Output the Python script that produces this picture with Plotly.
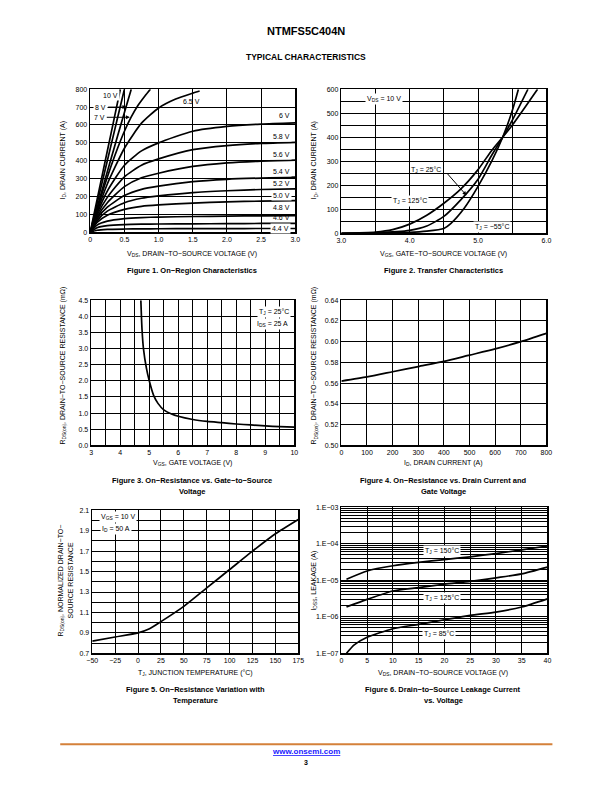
import math
import plotly.graph_objects as go

W, H = 612, 792
FONT = "Liberation Sans, Arial, sans-serif"

# ---------------- Figure 1 data: On-region characteristics ----------------
f1_10v_x = [0, 0.1, 0.2, 0.3, 0.44]
f1_10v_y = [0, 182, 364, 545, 800]
f1_9v_x = [0, 0.1, 0.2, 0.3, 0.4, 0.5]
f1_9v_y = [0, 160, 320, 480, 640, 800]
f1_8v_x = [0, 0.1, 0.2, 0.3, 0.4, 0.5, 0.6]
f1_8v_y = [0, 136, 272, 405, 538, 670, 800]
f1_7v_x = [0, 0.1, 0.2, 0.3, 0.4, 0.5, 0.6, 0.7, 0.8, 0.88]
f1_7v_y = [0, 128, 250, 365, 470, 565, 645, 710, 762, 800]
f1_65v_x = [0, 0.1, 0.25, 0.5, 0.75, 1.0, 1.25, 1.5, 1.6]
f1_65v_y = [0, 115, 270, 470, 610, 695, 745, 778, 790]
f1_vds = [0, 0.1, 0.25, 0.5, 0.75, 1.0, 1.5, 2.0, 2.5, 3.0]
f1_6v = [0, 105, 230, 375, 455, 500, 565, 592, 605, 612]
f1_58v = [0, 95, 195, 310, 375, 410, 462, 485, 497, 503]
f1_56v = [0, 85, 165, 255, 305, 330, 368, 388, 398, 403]
f1_54v = [0, 75, 140, 205, 240, 258, 283, 296, 303, 308]
f1_52v = [0, 65, 118, 165, 190, 203, 222, 232, 239, 242]
f1_50v = [0, 55, 95, 128, 145, 153, 163, 170, 174, 177]
f1_48v = [0, 40, 62, 76, 82, 85, 88, 90, 92, 93]
f1_46v = [0, 25, 37, 43, 45, 46, 47, 48, 49, 50]
f1_44v = [0, 11, 16, 18, 19, 19.5, 20, 20.5, 21, 21]

# ---------------- Figure 2 data: Transfer characteristics ----------------
f2_m55_x = [3.0, 3.5, 4.0, 4.25, 4.5, 4.6, 4.8, 5.0, 5.2, 5.36, 5.5, 5.59]
f2_m55_y = [0, 1, 4, 9, 20, 40, 105, 195, 300, 400, 510, 600]
f2_25_x = [3.0, 3.5, 4.0, 4.25, 4.5, 4.75, 5.0, 5.2, 5.36, 5.5, 5.73]
f2_25_y = [0, 2, 12, 30, 70, 140, 225, 325, 400, 470, 600]
f2_125_x = [3.0, 3.5, 3.75, 4.0, 4.25, 4.5, 4.75, 5.0, 5.2, 5.36, 5.5, 5.7, 5.87]
f2_125_y = [0, 5, 15, 38, 75, 125, 185, 265, 345, 400, 450, 530, 600]

# ---------------- Figure 3 data: RDS(on) vs VGS ----------------
f3_vgs = [4.71, 4.75, 4.8, 4.9, 5.0, 5.15, 5.3, 5.5, 5.75, 6.0, 6.5, 7.0, 7.5, 8.0, 8.5, 9.0, 9.5, 10.0]
f3_rds = [4.5, 3.6, 3.0, 2.4, 2.0, 1.55, 1.3, 1.1, 0.98, 0.9, 0.8, 0.74, 0.7, 0.66, 0.63, 0.6, 0.58, 0.565]

# ---------------- Figure 4 data: RDS(on) vs ID ----------------
f4_id = [0, 100, 200, 300, 400, 500, 600, 700, 800]
f4_rds = [0.562, 0.566, 0.571, 0.576, 0.581, 0.587, 0.593, 0.600, 0.608]

# ---------------- Figure 5 data: normalized RDS(on) vs TJ ----------------
f5_tj = [-50, -25, 0, 12.5, 25, 50, 75, 100, 125, 150, 175]
f5_rn = [0.82, 0.86, 0.90, 0.94, 1.01, 1.16, 1.34, 1.52, 1.70, 1.87, 2.01]

# ---------------- Figure 6 data: IDSS vs VDS ----------------
f6_vds = [1, 5, 10, 15, 20, 25, 30, 35, 40]
f6_150 = [1.07e-5, 1.8e-5, 2.5e-5, 3.1e-5, 3.7e-5, 4.4e-5, 5.4e-5, 6.8e-5, 8.7e-5]
f6_125 = [1.87e-6, 3.0e-6, 5.1e-6, 6.3e-6, 7.8e-6, 9.3e-6, 1.17e-5, 1.5e-5, 2.3e-5]
f6_85_x = [1, 2.5, 5, 10, 15, 20, 25, 30, 35, 40]
f6_85 = [1.0e-7, 1.7e-7, 2.75e-7, 4.7e-7, 6.2e-7, 8.3e-7, 1.1e-6, 1.35e-6, 1.85e-6, 3.1e-6]

# ---------------- tick definitions (labels + extra grid lines) ----------------
f1_xt = [0, 0.5, 1.0, 1.5, 2.0, 2.5, 3.0]
f1_xl = ["0", "0.5", "1.0", "1.5", "2.0", "2.5", "3.0"]
f1_yt = [0, 100, 200, 300, 400, 500, 600, 700, 800]
f2_xt = [3.0, 4.0, 5.0, 6.0]
f2_xl = ["3.0", "4.0", "5.0", "6.0"]
f2_xg = [3.5, 4.5, 5.5]
f2_yt = [0, 100, 200, 300, 400, 500, 600]
f2_yg = [50, 150, 250, 350, 450, 550]
f3_xt = [3, 4, 5, 6, 7, 8, 9, 10]
f3_xg = [3.5, 4.5, 5.5, 6.5, 7.5, 8.5, 9.5]
f3_yt = [0, 0.5, 1.0, 1.5, 2.0, 2.5, 3.0, 3.5, 4.0, 4.5]
f3_yl = ["0.0", "0.5", "1.0", "1.5", "2.0", "2.5", "3.0", "3.5", "4.0", "4.5"]
f4_xt = [0, 100, 200, 300, 400, 500, 600, 700, 800]
f4_yt = [0.50, 0.52, 0.54, 0.56, 0.58, 0.60, 0.62, 0.64]
f4_yl = ["0.50", "0.52", "0.54", "0.56", "0.58", "0.60", "0.62", "0.64"]
f5_xt = [-50, -25, 0, 25, 50, 75, 100, 125, 150, 175]
f5_xl = ["\u221250", "\u221225", "0", "25", "50", "75", "100", "125", "150", "175"]
f5_yt = [0.7, 0.9, 1.1, 1.3, 1.5, 1.7, 1.9, 2.1]
f5_yl = ["0.7", "0.9", "1.1", "1.3", "1.5", "1.7", "1.9", "2.1"]
f5_yg = [0.8, 1.0, 1.2, 1.4, 1.6, 1.8, 2.0]
f6_xt = [0, 5, 10, 15, 20, 25, 30, 35, 40]
f6_decades = [1e-7, 1e-6, 1e-5, 1e-4, 1e-3]
f6_declabels = ["1.E\u221207", "1.E\u221206", "1.E\u221205", "1.E\u221204", "1.E\u221203"]
f6_minor = [d * m for d in f6_decades[:-1] for m in range(2, 10)]

# ---------------- layout helpers (reference page pixels -> paper) ----------------
# small calibration so the photographed page lines up with the reference
SX, BX = 0.980, 5.8
SY, BY = 0.991, 3.8

def fx(x):
    return ((x - BX) / SX) / W

def fy(y):
    return 1 - ((y - BY) / SY) / H

def dom_x(a, b):
    return [fx(a), fx(b)]

def dom_y(top, bottom):
    return [fy(bottom), fy(top)]

def axis(domain, rng, tv, tt, anchor, grid=None, log=False):
    d = dict(domain=domain, range=rng, tickvals=tv, ticktext=tt, anchor=anchor,
             showgrid=True, gridcolor="black", gridwidth=1, zeroline=False,
             showline=True, linecolor="black", linewidth=1.6, mirror=True,
             ticks="", tickfont=dict(family=FONT, size=7, color="black"),
             fixedrange=True)
    if grid:
        d["minor"] = dict(tickvals=grid, showgrid=True, gridcolor="black",
                          gridwidth=1, ticks="")
    if log:
        d["type"] = "log"
    return d

fig = go.Figure()
LINE = dict(color="black", width=1.7, shape="spline", smoothing=0.6)

def add(x, y, n, name=""):
    s = "" if n == 1 else str(n)
    fig.add_trace(go.Scatter(x=x, y=y, mode="lines", line=LINE, name=name,
                             xaxis="x" + s, yaxis="y" + s,
                             showlegend=False, hoverinfo="x+y"))

# Figure 1 traces
add(f1_10v_x, f1_10v_y, 1, "10 V")
add(f1_9v_x, f1_9v_y, 1)
add(f1_8v_x, f1_8v_y, 1, "8 V")
add(f1_7v_x, f1_7v_y, 1, "7 V")
add(f1_65v_x, f1_65v_y, 1, "6.5 V")
for vals, nm in [(f1_6v, "6 V"), (f1_58v, "5.8 V"), (f1_56v, "5.6 V"), (f1_54v, "5.4 V"),
                 (f1_52v, "5.2 V"), (f1_50v, "5.0 V"), (f1_48v, "4.8 V"), (f1_46v, "4.6 V"),
                 (f1_44v, "4.4 V")]:
    add(f1_vds, vals, 1, nm)
# Figure 2
add(f2_m55_x, f2_m55_y, 2, "-55")
add(f2_25_x, f2_25_y, 2, "25")
add(f2_125_x, f2_125_y, 2, "125")
# Figure 3
add(f3_vgs, f3_rds, 3)
# Figure 4
add(f4_id, f4_rds, 4)
# Figure 5
add(f5_tj, f5_rn, 5)
# Figure 6
add(f6_vds, f6_150, 6, "150")
add(f6_vds, f6_125, 6, "125")
add(f6_85_x, f6_85, 6, "85")

fig.update_layout(
    width=W, height=H, margin=dict(l=0, r=0, t=0, b=0),
    paper_bgcolor="white", plot_bgcolor="white",
    font=dict(family=FONT, size=7, color="black"),
    xaxis=axis(dom_x(90, 295), [0, 3.0], f1_xt, f1_xl, "y"),
    yaxis=axis(dom_y(89, 232), [0, 800], f1_yt, [str(v) for v in f1_yt], "x"),
    xaxis2=axis(dom_x(341, 546), [3.0, 6.0], f2_xt, f2_xl, "y2", grid=f2_xg),
    yaxis2=axis(dom_y(89, 233), [0, 600], f2_yt, [str(v) for v in f2_yt], "x2", grid=f2_yg),
    xaxis3=axis(dom_x(91, 294), [3, 10], f3_xt, [str(v) for v in f3_xt], "y3", grid=f3_xg),
    yaxis3=axis(dom_y(300, 445), [0, 4.5], f3_yt, f3_yl, "x3"),
    xaxis4=axis(dom_x(341, 546), [0, 800], f4_xt, [str(v) for v in f4_xt], "y4"),
    yaxis4=axis(dom_y(300, 445), [0.50, 0.64], f4_yt, f4_yl, "x4"),
    xaxis5=axis(dom_x(92, 298), [-50, 175], f5_xt, f5_xl, "y5"),
    yaxis5=axis(dom_y(510, 653), [0.7, 2.1], f5_yt, f5_yl, "x5", grid=f5_yg),
    xaxis6=axis(dom_x(341, 547), [0, 40], f6_xt, [str(v) for v in f6_xt], "y6"),
    yaxis6=axis(dom_y(507, 653), [-7, -3], f6_decades, f6_declabels, "x6",
                grid=f6_minor, log=True),
)

ann = []

def ptext(x, y, text, size=7, bold=False, angle=0, color="black"):
    if bold:
        text = "<b>" + text + "</b>"
    ann.append(dict(x=fx(x), y=fy(y), xref="paper", yref="paper", text=text,
                    showarrow=False, textangle=angle, xanchor="center", yanchor="middle",
                    font=dict(family=FONT, size=size, color=color)))

def dtext(n, x, y, text, bg=True):
    s = "" if n == 1 else str(n)
    if n == 6:
        y = math.log10(y)
    ann.append(dict(x=x, y=y, xref="x" + s, yref="y" + s, text=text, showarrow=False,
                    xanchor="center", yanchor="middle", bgcolor="white" if bg else None,
                    borderpad=1, font=dict(family=FONT, size=7, color="black")))

def arrow(n, x0, y0, x1, y1):
    s = "" if n == 1 else str(n)
    ann.append(dict(x=x1, y=y1, ax=x0, ay=y0, xref="x" + s, yref="y" + s,
                    axref="x" + s, ayref="y" + s, text="", showarrow=True,
                    arrowhead=2, arrowsize=0.8, arrowwidth=1, arrowcolor="black"))

# page header
ptext(306, 31, "NTMFS5C404N", size=11, bold=True)
ptext(306, 57, "TYPICAL CHARACTERISTICS", size=8.5, bold=True)

# Figure 1 texts
ptext(192, 254, "V<sub>DS</sub>, DRAIN\u2212TO\u2212SOURCE VOLTAGE (V)")
ptext(63, 160, "I<sub>D</sub>, DRAIN CURRENT (A)", angle=-90)
ptext(192, 270, "Figure 1. On\u2212Region Characteristics", size=7.5, bold=True)
dtext(1, 0.29, 765, "10 V")
dtext(1, 0.15, 700, "8 V")
arrow(1, 0.24, 700, 0.53, 700)
dtext(1, 0.13, 643, "7 V")
arrow(1, 0.22, 643, 0.58, 643)
dtext(1, 1.48, 733, "6.5 V", bg=False)
dtext(1, 2.84, 655, "6 V")
dtext(1, 2.80, 537, "5.8 V")
dtext(1, 2.80, 436, "5.6 V")
dtext(1, 2.80, 340, "5.4 V")
dtext(1, 2.80, 272, "5.2 V", bg=False)
dtext(1, 2.80, 205, "5.0 V")
dtext(1, 2.80, 138, "4.8 V")
dtext(1, 2.80, 82, "4.6 V", bg=False)
dtext(1, 2.78, 21, "4.4 V")

# Figure 2 texts
ptext(443, 254, "V<sub>GS</sub>, GATE\u2212TO\u2212SOURCE VOLTAGE (V)")
ptext(314, 160, "I<sub>D</sub>, DRAIN CURRENT (A)", angle=-90)
ptext(443, 270, "Figure 2. Transfer Characteristics", size=7.5, bold=True)
dtext(2, 3.62, 560, "V<sub>DS</sub> = 10 V")
dtext(2, 4.24, 265, "T<sub>J</sub> = 25\u00b0C", bg=False)
arrow(2, 4.53, 255, 4.83, 158)
dtext(2, 4.0, 135, "T<sub>J</sub> = 125\u00b0C")
dtext(2, 5.2, 27, "T<sub>J</sub> = \u221255\u00b0C")

# Figure 3 texts
ptext(192, 463, "V<sub>GS</sub>, GATE VOLTAGE (V)")
ptext(63, 365, "R<sub>DS(on)</sub>, DRAIN\u2212TO\u2212SOURCE RESISTANCE (m\u03a9)", angle=-90)
ptext(192, 480, "Figure 3. On\u2212Resistance vs. Gate\u2212to\u2212Source", size=7.5, bold=True)
ptext(192, 491, "Voltage", size=7.5, bold=True)
dtext(3, 9.3, 4.15, "T<sub>J</sub> = 25\u00b0C")
dtext(3, 9.25, 3.75, "I<sub>DS</sub> = 25 A")

# Figure 4 texts
ptext(443, 463, "I<sub>D</sub>, DRAIN CURRENT (A)")
ptext(314, 365, "R<sub>DS(on)</sub>, DRAIN\u2212TO\u2212SOURCE RESISTANCE (m\u03a9)", angle=-90)
ptext(443, 480, "Figure 4. On\u2212Resistance vs. Drain Current and", size=7.5, bold=True)
ptext(443, 491, "Gate Voltage", size=7.5, bold=True)

# Figure 5 texts
ptext(195, 673, "T<sub>J</sub>, JUNCTION TEMPERATURE (\u00b0C)")
ptext(61, 580, "R<sub>DS(on)</sub>, NORMALIZED DRAIN\u2212TO\u2212", angle=-90)
ptext(70, 580, "SOURCE RESISTANCE", angle=-90)
ptext(195, 689, "Figure 5. On\u2212Resistance Variation with", size=7.5, bold=True)
ptext(195, 700, "Temperature", size=7.5, bold=True)
dtext(5, -22, 2.03, "V<sub>GS</sub> = 10 V")
dtext(5, -24, 1.92, "I<sub>D</sub> = 50 A")

# Figure 6 texts
ptext(443, 673, "V<sub>DS</sub>, DRAIN\u2212TO\u2212SOURCE VOLTAGE (V)")
ptext(314, 580, "I<sub>DSS</sub>, LEAKAGE (A)", angle=-90)
ptext(443, 689, "Figure 6. Drain\u2212to\u2212Source Leakage Current", size=7.5, bold=True)
ptext(443, 700, "vs. Voltage", size=7.5, bold=True)
dtext(6, 19.5, 6.3e-5, "T<sub>J</sub> = 150\u00b0C")
dtext(6, 19.5, 3.3e-6, "T<sub>J</sub> = 125\u00b0C")
dtext(6, 19.0, 3.4e-7, "T<sub>J</sub> = 85\u00b0C")

# footer
ptext(306, 751, "<u>www.onsemi.com</u>", size=8, bold=True, color="#1a1aff")
ptext(306, 762, "3", size=7, bold=True)

fig.update_layout(annotations=ann)
fig.add_shape(type="line", xref="paper", yref="paper", x0=fx(60), x1=fx(552),
              y0=fy(744), y1=fy(744), line=dict(color="#d4813a", width=2))

# remove default page margin / scrollbars so the figure sits at the page origin
PAGE_JS = ("document.documentElement.style.margin='0';"
           "document.body.style.margin='0';"
           "document.documentElement.style.overflow='hidden';"
           "document.body.style.overflow='hidden';")

fig.write_html("out.html", post_script=PAGE_JS,
               config={"displayModeBar": False, "staticPlot": True})
